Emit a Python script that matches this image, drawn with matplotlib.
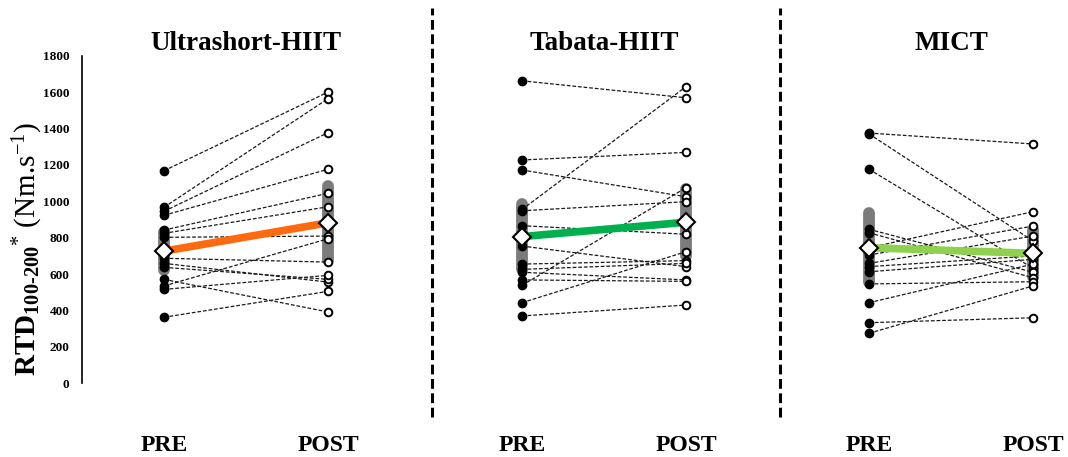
import matplotlib
matplotlib.use("Agg")
import matplotlib.pyplot as plt
import matplotlib.transforms as mtransforms
import numpy as np

plt.rcParams['font.family'] = ['Liberation Serif', 'DejaVu Serif']
plt.rcParams['mathtext.fontset'] = 'custom'
plt.rcParams['mathtext.rm'] = 'Liberation Serif'
plt.rcParams['mathtext.bf'] = 'Liberation Serif:bold'
plt.rcParams['mathtext.it'] = 'Liberation Serif:italic'

groups = ['Ultrashort-HIIT', 'Tabata-HIIT', 'MICT']
times = ['PRE', 'POST']

# individual RTD values, PRE -> POST pairs
uhiit_pre = [1168, 967, 945, 923, 842, 824, 802, 687, 659, 637, 571, 535, 516, 363]
uhiit_post = [1600, 1564, 1377, 1176, 1044, 970, 809, 666, 556, 571, 392, 794, 593, 505]
tabata_pre = [1662, 955, 1227, 1172, 948, 866, 754, 655, 626, 610, 568, 538, 443, 370]
tabata_post = [1569, 1630, 1269, 1025, 998, 819, 641, 674, 659, 568, 560, 1075, 723, 430]
mict_pre = [1375, 1370, 1176, 846, 827, 745, 705, 659, 641, 613, 546, 443, 333, 275]
mict_post = [1315, 782, 632, 610, 580, 943, 864, 809, 700, 681, 558, 655, 360, 535]

# group means and error bar half-widths
mean_pre = [726, 806, 745]
mean_post = [882, 885, 714]
err_pre = [105, 178, 188]
err_post = [203, 183, 128]
mean_colors = ['#ff6a10', '#00b04f', '#8fd14f']

pre_vals = [uhiit_pre, tabata_pre, mict_pre]
post_vals = [uhiit_post, tabata_post, mict_post]

# x position of each PRE column (POST sits one unit to the right)
group_x = [0.0, 2.183, 4.299]
sep_x = [1.634, 3.756]

fig = plt.figure(figsize=(10.68, 4.57), dpi=100)
ax = fig.add_axes([82/1068, 0.1613, 986/1068, 0.7168])

for i in range(3):
    x0 = group_x[i]
    x1 = x0 + 1
    # mean +/- error as thick grey bars
    ax.plot([x0, x0], [mean_pre[i] - err_pre[i], mean_pre[i] + err_pre[i]],
            color='#7b7b7b', lw=8.5, solid_capstyle='round', zorder=1)
    ax.plot([x1, x1], [mean_post[i] - err_post[i], mean_post[i] + err_post[i]],
            color='#7b7b7b', lw=8.5, solid_capstyle='round', zorder=1)
    for a, b in zip(pre_vals[i], post_vals[i]):
        ax.plot([x0, x1], [a, b], color='#1a1a1a', lw=0.9,
                linestyle=(0, (3.0, 1.5)), zorder=2)
    ax.plot([x0] * len(pre_vals[i]), pre_vals[i], 'o', color='black',
            ms=6, zorder=3)
    ax.plot([x1] * len(post_vals[i]), post_vals[i], 'o', mfc='white',
            mec='black', mew=1.4, ms=5.5, zorder=3)
    ax.plot([x0, x1], [mean_pre[i], mean_post[i]], color=mean_colors[i],
            lw=5.5, solid_capstyle='butt', zorder=4)
    ax.plot([x0, x1], [mean_pre[i], mean_post[i]], 'D', mfc='white',
            mec='black', mew=1.5, ms=9.5, zorder=5)

trans = mtransforms.blended_transform_factory(ax.transData, ax.transAxes)
for i, g in enumerate(groups):
    ax.text(group_x[i] + 0.5, 1.036, g, transform=trans, ha='center',
            va='center', fontsize=19.5, fontweight='bold')

for xs in sep_x:
    ax.plot([xs, xs], [-0.104, 1.147], transform=trans, color='black', lw=2.2,
            linestyle=(0, (3.2, 1.5)), clip_on=False)

ax.set_xlim(-0.5, 5.512)
ax.set_ylim(0, 1800)
ax.set_yticks(np.arange(0, 1801, 200))
ax.set_yticklabels([str(v) for v in range(0, 1801, 200)],
                   fontsize=9.5, fontweight='bold')
ticks = []
labels = []
for x0 in group_x:
    ticks += [x0, x0 + 1]
    labels += times
ax.set_xticks(ticks)
ax.set_xticklabels(labels, fontsize=17, fontweight='bold')
ax.tick_params(axis='y', length=0, pad=9)
ax.tick_params(axis='x', length=0, pad=37)
for s in ['top', 'right', 'bottom']:
    ax.spines[s].set_visible(False)
ax.spines['left'].set_linewidth(1.2)

fig.text(28/1068, 0.455,
         r'$\mathbf{RTD}_{\mathbf{100\text{-}200}}{}^{*}$ (Nm.s$^{\mathrm{-1}}$)',
         rotation=90, ha='center', va='center', fontsize=21)

fig.savefig('out.png', dpi=100)
